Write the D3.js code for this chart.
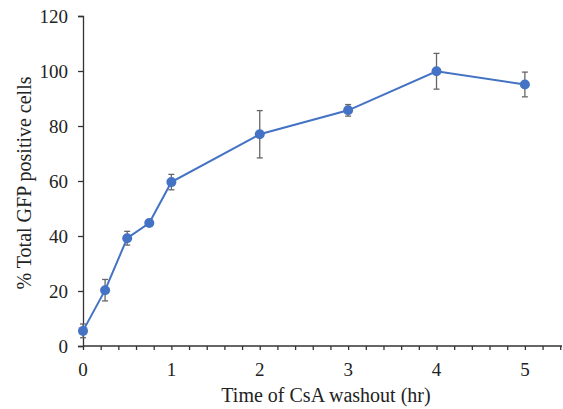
<!DOCTYPE html>
<html>
<head>
<meta charset="utf-8">
<style>
  body { margin: 0; background: #fff; }
  text { font-family: "Liberation Serif", "Times New Roman", serif; fill: #222; }
</style>
<script src="https://d3js.org/d3.v7.min.js"></script>
</head>
<body>
<script>
// time after washout (hr), % GFP positive cells, error (+/-)
var hours = [0, 0.25, 0.5, 0.75, 1, 2, 3, 4, 5];
var percent = [5.5, 20.3, 39.2, 44.7, 59.6, 77.0, 85.7, 99.9, 95.1];
var errors = [2.5, 3.9, 2.5, 1.0, 2.8, 8.6, 2.1, 6.5, 4.5];
var yTicks = [0, 20, 40, 60, 80, 100, 120];
var xTicks = [0, 1, 2, 3, 4, 5];

var W = 563, H = 409;
var x = d3.scaleLinear().domain([0, 5.42]).range([83, 562]);
var y = d3.scaleLinear().domain([0, 120]).range([346, 16]);

var svg = d3.select("body").append("svg")
  .attr("width", W).attr("height", H);

// y axis
var yAxis = d3.axisLeft(y).tickValues(yTicks).tickSize(5).tickPadding(10);
var gy = svg.append("g").attr("transform", "translate(" + x(0) + ",0)").call(yAxis);
gy.attr("font-family", null);
gy.select(".domain").attr("stroke", "#333").attr("stroke-width", 1.3);
gy.selectAll(".tick line").attr("stroke", "#333").attr("stroke-width", 1.3);
gy.selectAll(".tick text").style("font-size", "19px").attr("fill", "#222")
  .style("font-family", "Liberation Serif");

// x axis, minor ticks every 0.2
var xAxis = d3.axisBottom(x).tickValues(d3.range(0, 5.41, 0.2)).tickSize(4)
  .tickFormat(function(d) { return ""; });
var gx = svg.append("g").attr("transform", "translate(0," + y(0) + ")").call(xAxis);
gx.select(".domain").attr("stroke", "#333").attr("stroke-width", 1.3)
  .attr("d", "M" + x(0) + ",0H" + 562);
gx.selectAll(".tick line").attr("stroke", "#333").attr("stroke-width", 1.3);

svg.append("g").selectAll("text").data(xTicks).enter().append("text")
  .attr("x", function(d) { return x(d); })
  .attr("y", 376)
  .attr("text-anchor", "middle")
  .style("font-size", "19px")
  .text(function(d) { return d; });

// axis titles
svg.append("text")
  .attr("x", 326).attr("y", 402)
  .attr("text-anchor", "middle")
  .style("font-size", "20px")
  .text("Time of CsA washout (hr)");

svg.append("text")
  .attr("transform", "translate(31," + 183 + ") rotate(-90)")
  .attr("text-anchor", "middle")
  .style("font-size", "20px")
  .text("% Total GFP positive cells");

// error bars
var data = hours.map(function(h, i) { return { h: h, v: percent[i], e: errors[i] }; });
var eb = svg.append("g").attr("stroke", "#666").attr("stroke-width", 1.3);
data.forEach(function(d) {
  var cx = x(d.h);
  eb.append("line").attr("x1", cx).attr("x2", cx).attr("y1", y(d.v - d.e)).attr("y2", y(d.v + d.e));
  eb.append("line").attr("x1", cx - 3).attr("x2", cx + 3).attr("y1", y(d.v - d.e)).attr("y2", y(d.v - d.e));
  eb.append("line").attr("x1", cx - 3).attr("x2", cx + 3).attr("y1", y(d.v + d.e)).attr("y2", y(d.v + d.e));
});

// line + markers
var line = d3.line().x(function(d) { return x(d.h); }).y(function(d) { return y(d.v); });
svg.append("path").datum(data)
  .attr("d", line)
  .attr("fill", "none")
  .attr("stroke", "#4472C4")
  .attr("stroke-width", 2);

svg.append("g").selectAll("circle").data(data).enter().append("circle")
  .attr("cx", function(d) { return x(d.h); })
  .attr("cy", function(d) { return y(d.v); })
  .attr("r", 5)
  .attr("fill", "#4472C4");
</script>
</body>
</html>
